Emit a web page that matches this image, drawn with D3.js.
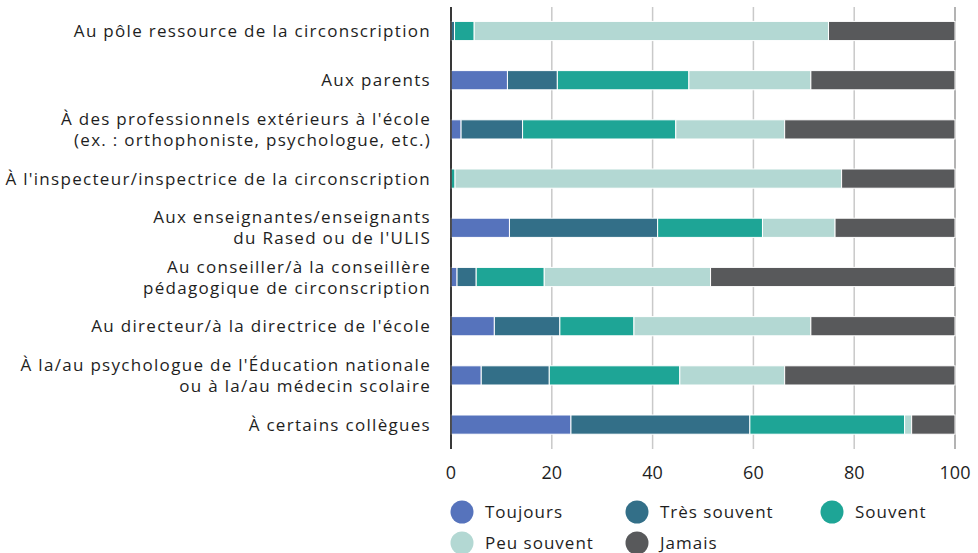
<!DOCTYPE html>
<html>
<head>
<meta charset="utf-8">
<script src="https://cdn.jsdelivr.net/npm/d3@7"></script>
<style>
  html, body { margin: 0; padding: 0; background: #fff; }
  svg text { font-family: "Open Sans", "Noto Sans", sans-serif; }
</style>
</head>
<body>
<div id="chart"></div>
<script>
// stacked horizontal bars - share of answers per recipient

const categories = [
    ["Au pôle ressource de la circonscription"],
    ["Aux parents"],
    ["À des professionnels extérieurs à l'école", "(ex. : orthophoniste, psychologue, etc.)"],
    ["À l'inspecteur/inspectrice de la circonscription"],
    ["Aux enseignantes/enseignants", "du Rased ou de l'ULIS"],
    ["Au conseiller/à la conseillère", "pédagogique de circonscription"],
    ["Au directeur/à la directrice de l'école"],
    ["À la/au psychologue de l'Éducation nationale", "ou à la/au médecin scolaire"],
    ["À certains collègues"]
];

const seriesNames = ["Toujours", "Très souvent", "Souvent", "Peu souvent", "Jamais"];
const seriesColors = ["#5673bc", "#336f88", "#1ea596", "#b3d8d3", "#58595b"];

const toujours    = [0.0, 11.2,  2.0,  0.0, 11.6,  1.2,  8.6,  6.0, 23.8];
const tresSouvent = [0.7,  9.9, 12.2,  0.0, 29.4,  3.8, 13.0, 13.5, 35.5];
const souvent     = [3.9, 26.1, 30.4,  0.8, 20.8, 13.5, 14.7, 25.9, 30.7];
const peuSouvent  = [70.3, 24.2, 21.6, 76.7, 14.4, 33.0, 35.1, 20.8,  1.4];
const jamais      = [25.1, 28.6, 33.8, 22.5, 23.8, 48.5, 28.6, 33.8,  8.6];

const xTicks = [0, 20, 40, 60, 80, 100];

const width = 978, height = 553;
const svg = d3.select("#chart").append("svg")
    .attr("width", width)
    .attr("height", height);

const rows = categories.map((c, i) => ({
    key: i,
    label: c,
    "Toujours": toujours[i],
    "Très souvent": tresSouvent[i],
    "Souvent": souvent[i],
    "Peu souvent": peuSouvent[i],
    "Jamais": jamais[i]
}));

const x = d3.scaleLinear().domain([0, 100]).range([451, 955]);
const y = d3.scaleBand()
    .domain(rows.map(d => d.key))
    .range([6.4, 449.2])
    .paddingInner(0.61)
    .paddingOuter(0.305);
const color = d3.scaleOrdinal().domain(seriesNames).range(seriesColors);

const gridTop = 7, gridBottom = 449;

// grid lines
svg.append("g")
    .selectAll("line")
    .data(xTicks)
    .join("line")
    .attr("x1", d => x(d)).attr("x2", d => x(d))
    .attr("y1", gridTop).attr("y2", gridBottom)
    .attr("stroke", d => d === 0 ? "#2b2b2b" : (d === 100 ? "#9a9a9a" : "#c9c9c9"))
    .attr("stroke-width", 1.5);

// stacked bars
const stack = d3.stack().keys(seriesNames);
const layers = stack(rows);

svg.append("g")
    .selectAll("g")
    .data(layers)
    .join("g")
    .attr("fill", d => color(d.key))
    .selectAll("rect")
    .data(d => d)
    .join("rect")
    .attr("x", d => x(d[0]))
    .attr("y", d => y(d.data.key))
    .attr("width", d => Math.max(0, x(d[1]) - x(d[0])))
    .attr("height", y.bandwidth())
    .attr("stroke", "#fff")
    .attr("stroke-width", 1);

// redraw the zero line over the bars
svg.append("line")
    .attr("x1", x(0)).attr("x2", x(0))
    .attr("y1", gridTop).attr("y2", gridBottom)
    .attr("stroke", "#2b2b2b")
    .attr("stroke-width", 1.5);

// category labels
const labels = svg.append("g")
    .selectAll("text")
    .data(rows)
    .join("text")
    .attr("text-anchor", "end")
    .attr("x", 431)
    .attr("y", d => y(d.key) + y.bandwidth() / 2)
    .style("font-size", "17px")
    .style("letter-spacing", "1.3px")
    .style("fill", "#1e1e1e");

labels.each(function(d) {
    const t = d3.select(this);
    const n = d.label.length;
    d.label.forEach((line, j) => {
        t.append("tspan")
            .attr("x", 431)
            .attr("dy", j === 0 ? ((-(n - 1) * 21) / 2 + 6) : 21)
            .text(line);
    });
});

// x tick labels
svg.append("g")
    .selectAll("text")
    .data(xTicks)
    .join("text")
    .attr("x", d => x(d))
    .attr("y", 479)
    .attr("text-anchor", "middle")
    .style("font-size", "18px")
    .style("fill", "#1e1e1e")
    .text(d => d);

// legend
const legendPos = [[462, 512], [637, 512], [832, 512], [462, 543], [637, 543]];
const legend = svg.append("g")
    .selectAll("g")
    .data(seriesNames)
    .join("g")
    .attr("transform", (d, i) => `translate(${legendPos[i][0]}, ${legendPos[i][1]})`);

legend.append("circle")
    .attr("r", 11.5)
    .attr("fill", d => color(d));

legend.append("text")
    .attr("x", 23)
    .attr("y", 5.5)
    .style("font-size", "17px")
    .style("letter-spacing", "1px")
    .style("fill", "#1e1e1e")
    .text(d => d);
</script>
</body>
</html>
